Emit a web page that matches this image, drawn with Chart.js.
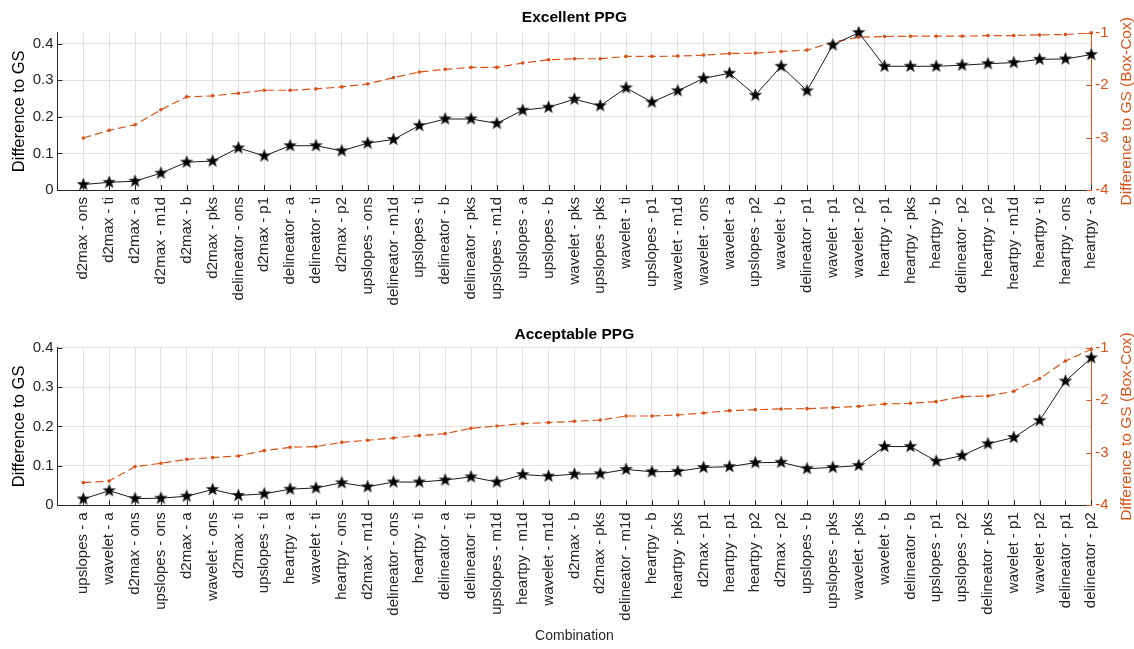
<!DOCTYPE html>
<html>
<head>
<meta charset="utf-8">
<title>Difference to GS per combination</title>
<script src="https://cdn.jsdelivr.net/npm/chart.js@4.4.1/dist/chart.umd.min.js"></script>
<style>
  html, body { margin: 0; padding: 0; background: #fff; }
  canvas { position: absolute; left: 0; }
  #excellent { top: 0; }
  #acceptable { top: 316px; }
</style>
</head>
<body>
<canvas id="excellent" width="1134" height="316"></canvas>
<canvas id="acceptable" width="1134" height="333"></canvas>
<script>
// data
const excellentCats = [
  'd2max - ons', 'd2max - ti', 'd2max - a', 'd2max - m1d', 'd2max - b', 'd2max - pks',
  'delineator - ons', 'd2max - p1', 'delineator - a', 'delineator - ti', 'd2max - p2',
  'upslopes - ons', 'delineator - m1d', 'upslopes - ti', 'delineator - b', 'delineator - pks',
  'upslopes - m1d', 'upslopes - a', 'upslopes - b', 'wavelet - pks', 'upslopes - pks',
  'wavelet - ti', 'upslopes - p1', 'wavelet - m1d', 'wavelet - ons', 'wavelet - a',
  'upslopes - p2', 'wavelet - b', 'delineator - p1', 'wavelet - p1', 'wavelet - p2',
  'heartpy - p1', 'heartpy - pks', 'heartpy - b', 'delineator - p2', 'heartpy - p2',
  'heartpy - m1d', 'heartpy - ti', 'heartpy - ons', 'heartpy - a'
];
const excellentDiff = [
  0.015, 0.021, 0.024, 0.046, 0.076, 0.079, 0.115, 0.093, 0.121, 0.121,
  0.107, 0.128, 0.138, 0.176, 0.194, 0.194, 0.182, 0.218, 0.226, 0.248,
  0.230, 0.279, 0.240, 0.271, 0.305, 0.319, 0.259, 0.338, 0.271, 0.396,
  0.430, 0.338, 0.338, 0.338, 0.341, 0.345, 0.348, 0.357, 0.358, 0.370
];
const excellentBoxCox = [
  -3.008, -2.863, -2.756, -2.471, -2.225, -2.206, -2.155, -2.099, -2.099, -2.073,
  -2.035, -1.979, -1.858, -1.751, -1.700, -1.663, -1.663, -1.580, -1.517, -1.498,
  -1.498, -1.454, -1.454, -1.448, -1.429, -1.397, -1.391, -1.359, -1.334, -1.183,
  -1.088, -1.075, -1.069, -1.069, -1.069, -1.056, -1.056, -1.044, -1.037, -1.006
];

const acceptableCats = [
  'upslopes - a', 'wavelet - a', 'd2max - ons', 'upslopes - ons', 'd2max - a', 'wavelet - ons',
  'd2max - ti', 'upslopes - ti', 'heartpy - a', 'wavelet - ti', 'heartpy - ons', 'd2max - m1d',
  'delineator - ons', 'heartpy - ti', 'delineator - a', 'delineator - ti', 'upslopes - m1d',
  'heartpy - m1d', 'wavelet - m1d', 'd2max - b', 'd2max - pks', 'delineator - m1d',
  'heartpy - b', 'heartpy - pks', 'd2max - p1', 'heartpy - p1', 'heartpy - p2', 'd2max - p2',
  'upslopes - b', 'upslopes - pks', 'wavelet - pks', 'wavelet - b', 'delineator - b',
  'upslopes - p1', 'upslopes - p2', 'delineator - pks', 'wavelet - p1', 'wavelet - p2',
  'delineator - p1', 'delineator - p2'
];
const acceptableDiff = [
  0.016, 0.037, 0.017, 0.018, 0.023, 0.040, 0.025, 0.029, 0.041, 0.044,
  0.057, 0.047, 0.059, 0.059, 0.064, 0.072, 0.059, 0.078, 0.074, 0.079,
  0.080, 0.091, 0.085, 0.086, 0.096, 0.098, 0.108, 0.109, 0.093, 0.096,
  0.101, 0.149, 0.149, 0.112, 0.126, 0.156, 0.172, 0.215, 0.315, 0.374
];
const acceptableBoxCox = [
  -3.569, -3.537, -3.264, -3.201, -3.125, -3.093, -3.062, -2.960, -2.897, -2.884,
  -2.802, -2.763, -2.719, -2.675, -2.637, -2.535, -2.491, -2.446, -2.427, -2.402,
  -2.377, -2.301, -2.301, -2.282, -2.244, -2.199, -2.180, -2.167, -2.161, -2.142,
  -2.117, -2.072, -2.060, -2.028, -1.933, -1.920, -1.831, -1.590, -1.254, -1.032
];

const leftTicks = [0, 0.1, 0.2, 0.3, 0.4];
const rightTicks = [-4, -3, -2, -1];

const ORANGE = '#D95319';
const AXIS = '#262626';
const GRID = '#e2e2e2';

Chart.defaults.font.family = "'Liberation Sans', Arial, Helvetica, sans-serif";
Chart.defaults.color = AXIS;

// filled pentagram for the black series
function starMarker(r) {
  const s = Math.ceil(r * 2 + 2);
  const c = document.createElement('canvas');
  c.width = s; c.height = s;
  const g = c.getContext('2d');
  g.beginPath();
  for (let i = 0; i < 10; i++) {
    const rad = i % 2 ? r * 0.42 : r;
    const a = -Math.PI / 2 + i * Math.PI / 5;
    g.lineTo(s / 2 + rad * Math.cos(a), s / 2 + rad * Math.sin(a));
  }
  g.closePath();
  g.fillStyle = '#000';
  g.fill();
  g.strokeStyle = '#444';
  g.lineWidth = 0.6;
  g.stroke();
  return c;
}
const star = starMarker(6.5);

// inward tick marks + right axis label reading bottom-to-top (matlab look)
const matlabAxes = {
  id: 'matlabAxes',
  afterDatasetsDraw(chart) {
    const { ctx, chartArea: a, scales } = chart;
    ctx.save();
    ctx.lineWidth = 1;
    ctx.strokeStyle = AXIS;
    ctx.beginPath();
    scales.x.ticks.forEach(t => {
      const px = Math.round(scales.x.getPixelForValue(t.value)) + 0.5;
      ctx.moveTo(px, a.bottom);
      ctx.lineTo(px, a.bottom - 5);
    });
    scales.y.ticks.forEach(t => {
      const py = Math.round(scales.y.getPixelForValue(t.value)) + 0.5;
      ctx.moveTo(a.left, py);
      ctx.lineTo(a.left + 5, py);
    });
    ctx.stroke();
    ctx.strokeStyle = ORANGE;
    ctx.beginPath();
    scales.y1.ticks.forEach(t => {
      const py = Math.round(scales.y1.getPixelForValue(t.value)) + 0.5;
      ctx.moveTo(a.right, py);
      ctx.lineTo(a.right - 5, py);
    });
    ctx.stroke();
    ctx.restore();
  },
  afterDraw(chart) {
    const { ctx, chartArea: a } = chart;
    ctx.save();
    ctx.translate(1127, (a.top + a.bottom) / 2);
    ctx.rotate(-Math.PI / 2);
    ctx.font = "15.5px 'Liberation Sans', Arial, sans-serif";
    ctx.fillStyle = ORANGE;
    ctx.textAlign = 'center';
    ctx.textBaseline = 'middle';
    ctx.fillText('Difference to GS (Box-Cox)', 0, 0);
    ctx.restore();
  }
};

function buildChart(id, title, cats, diff, boxcox, leftMax, lay) {
  const points = vals => vals.map((v, i) => ({ x: i + 1, y: v }));
  return new Chart(document.getElementById(id), {
    type: 'line',
    data: {
      datasets: [{
        label: 'Difference to GS',
        data: points(diff),
        yAxisID: 'y',
        borderColor: '#1a1a1a',
        borderWidth: 1,
        pointStyle: star,
        pointRadius: 6,
        clip: false,
        order: 0
      }, {
        label: 'Difference to GS (Box-Cox)',
        data: points(boxcox),
        yAxisID: 'y1',
        borderColor: ORANGE,
        borderWidth: 1.2,
        borderDash: [8, 4],
        pointStyle: 'circle',
        pointRadius: 1.8,
        pointBackgroundColor: ORANGE,
        pointBorderWidth: 0,
        clip: false,
        order: 1
      }]
    },
    options: {
      responsive: false,
      animation: false,
      layout: { padding: 0 },
      plugins: {
        legend: { display: false },
        tooltip: { enabled: false },
        title: {
          display: true,
          text: title,
          fullSize: false,
          color: '#000',
          font: { size: 15.5, weight: 'bold' },
          padding: lay.titlePad
        }
      },
      scales: {
        x: {
          type: 'linear',
          min: 0,
          max: 40,
          afterBuildTicks: ax => { ax.ticks = cats.map((c, i) => ({ value: i + 1 })); },
          ticks: {
            autoSkip: false,
            minRotation: 90,
            maxRotation: 90,
            padding: 7,
            color: AXIS,
            font: { size: 15 },
            callback: v => cats[v - 1]
          },
          grid: { color: GRID, drawTicks: false },
          border: { color: AXIS },
          title: {
            display: lay.xTitle,
            text: 'Combination',
            color: AXIS,
            font: { size: 14 },
            padding: { top: 0, bottom: 4.5 }
          },
          afterFit: ax => { ax.height = lay.xHeight; }
        },
        y: {
          position: 'left',
          min: 0,
          max: leftMax,
          afterBuildTicks: ax => { ax.ticks = leftTicks.map(v => ({ value: v })); },
          ticks: {
            padding: 4,
            color: AXIS,
            font: { size: 15 },
            callback: v => (v === 0 ? '0' : v.toFixed(1))
          },
          grid: { color: GRID, drawTicks: false },
          border: { color: AXIS },
          title: {
            display: true,
            text: 'Difference to GS',
            color: '#000',
            font: { size: 16.5 },
            padding: { top: 9.5, bottom: 0 }
          },
          afterFit: ax => { ax.width = 57.5; }
        },
        y1: {
          position: 'right',
          min: -4,
          max: -1,
          afterBuildTicks: ax => { ax.ticks = rightTicks.map(v => ({ value: v })); },
          ticks: { padding: 4, color: ORANGE, font: { size: 15 } },
          grid: { drawOnChartArea: false, drawTicks: false },
          border: { color: ORANGE },
          afterFit: ax => { ax.width = 42.7; }
        }
      }
    },
    plugins: [matlabAxes]
  });
}

buildChart('excellent', 'Excellent PPG', excellentCats, excellentDiff, excellentBoxCox, 0.43,
  { titlePad: { top: 8, bottom: 6 }, xHeight: 126, xTitle: false });
buildChart('acceptable', 'Acceptable PPG', acceptableCats, acceptableDiff, acceptableBoxCox, 0.4,
  { titlePad: { top: 9, bottom: 4 }, xHeight: 143.7, xTitle: true });
</script>
</body>
</html>
